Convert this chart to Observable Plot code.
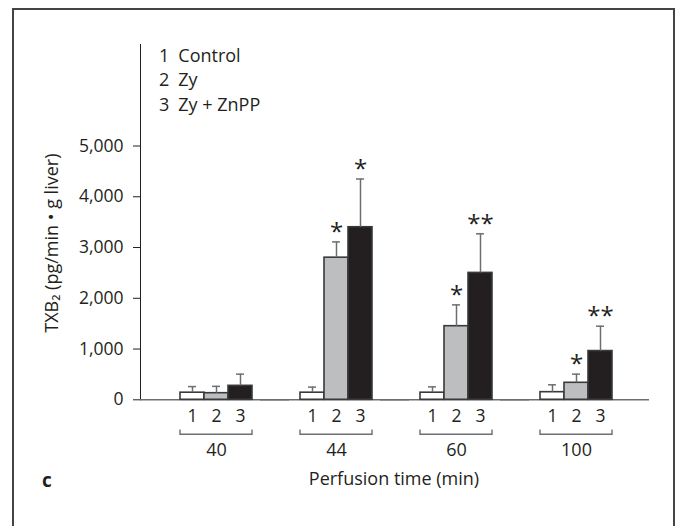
<!DOCTYPE html>
<html>
<head>
<meta charset="utf-8">
<script src="https://cdn.jsdelivr.net/npm/d3@7"></script>
<script src="https://cdn.jsdelivr.net/npm/@observablehq/plot@0.6"></script>
<style>
  html, body { margin: 0; padding: 0; background: #fff; }
  #wrap { position: relative; width: 678px; height: 526px; overflow: hidden; font-family: 'Open Sans', sans-serif; color: #231f20; }
  #border { position: absolute; left: 12px; top: 8px; width: 663px; height: 600px; border: 2px solid #444; box-sizing: border-box; }
  #chart { position: absolute; left: 0; top: 0; }
  #xtitle { position: absolute; left: 294px; width: 200px; top: 469px; text-align: center; font-size: 18px; line-height: 18px; white-space: nowrap; }
  #panel { position: absolute; left: 42px; top: 471px; font-size: 19px; font-weight: 700; line-height: 19px; }
</style>
</head>
<body>
<div id="wrap">
  <div id="border"></div>
  <div id="chart"></div>
  <div id="xtitle"></div>
  <div id="panel"></div>
</div>
<script>
// ---- data ----
const times = [40, 44, 60, 100];                 // perfusion time groups (min)
const seriesIds = ["1", "2", "3"];
const seriesNames = ["Control", "Zy", "Zy + ZnPP"];
const controlMean = [140, 140, 140, 150];
const controlErr  = [120, 110, 115, 145];
const zyMean      = [130, 2800, 1450, 335];
const zyErr       = [135, 310, 420, 170];
const znppMean    = [275, 3400, 2500, 960];
const znppErr     = [230, 950, 770, 490];
const controlSig  = ["", "", "", ""];
const zySig       = ["", "*", "*", "*"];
const znppSig     = ["", "*", "**", "**"];
const yTicks = [0, 1000, 2000, 3000, 4000, 5000];
const yLabel = "TXB\u2082 (pg/min \u2022 g liver)";
const xTitle = "Perfusion time (min)";
const panelLabel = "c";

// ---- table built from the arrays ----
const seriesData = [
  [controlMean, controlErr, controlSig],
  [zyMean, zyErr, zySig],
  [znppMean, znppErr, znppSig]
];
const rows = [];
times.forEach((t, i) => {
  seriesData.forEach(([m, e, s], j) => {
    rows.push({time: t, series: seriesIds[j], value: m[i], err: e[i], sig: s[i]});
  });
});
const legendText = seriesIds.map((id, j) => id + "\u2002" + seriesNames[j]).join("\n");

const ink = "#231f20";
const gray = "#6d6e71";

// bracket under each group, drawn from the inner band scale
function bracket(index, scales) {
  const x = scales.x, y = scales.y;
  const bw = typeof x.bandwidth === "function" ? x.bandwidth() : x.bandwidth;
  const x0 = x(seriesIds[0]);
  const x1 = x(seriesIds[seriesIds.length - 1]) + bw;
  const yb = y(0) + 35;
  const p = document.createElementNS("http://www.w3.org/2000/svg", "path");
  p.setAttribute("d", `M${x0},${yb - 4.7}V${yb}H${x1}V${yb - 4.7}`);
  p.setAttribute("fill", "none");
  p.setAttribute("stroke", gray);
  p.setAttribute("stroke-width", 1.4);
  return p;
}

const chart = Plot.plot({
  width: 678,
  height: 466,
  marginLeft: 140,
  marginRight: 58,
  marginTop: 44,
  marginBottom: 66.7,
  style: {fontFamily: "'Open Sans', sans-serif", fontSize: "17.5px", color: ink, background: "transparent", overflow: "visible"},
  fx: {domain: times, axis: null, paddingInner: 0, paddingOuter: 0},
  x: {domain: seriesIds, paddingInner: 0, paddingOuter: 0.952, align: 0.843, tickSize: 0, tickPadding: 10, label: null},
  y: {domain: [0, 7000], ticks: yTicks, tickFormat: d3.format(","), line: true, tickSize: 7, tickPadding: 10, label: null},
  color: {domain: seriesIds, range: ["#ffffff", "#bcbec0", ink]},
  marks: [
    Plot.ruleY([0], {stroke: gray, strokeWidth: 1.5, insetRight: -29}),
    Plot.barY(rows, {fx: "time", x: "series", y: "value", fill: "series", stroke: "#3a3a3a", strokeWidth: 1.6}),
    Plot.ruleX(rows, {fx: "time", x: "series", y1: "value", y2: d => d.value + d.err, stroke: gray, strokeWidth: 1.5}),
    Plot.tickY(rows, {fx: "time", x: "series", y: d => d.value + d.err, stroke: gray, strokeWidth: 1.5, insetLeft: 8, insetRight: 8}),
    Plot.text(rows.filter(d => d.sig), {fx: "time", x: "series", y: d => d.value + d.err, text: "sig", dy: -10, fontSize: 24, fill: ink}),
    Plot.text(times, {fx: d => d, x: () => seriesIds[1], text: d => String(d), frameAnchor: "bottom", dy: 56, fontSize: 18, fill: ink}),
    bracket,
    Plot.text([legendText], {fx: () => times[0], frameAnchor: "top-left", textAnchor: "start", lineAnchor: "top", dx: 18.5, dy: 0, lineHeight: 1.36, fontSize: 18, fill: ink}),
    Plot.text([yLabel], {fx: () => times[0], frameAnchor: "left", textAnchor: "middle", rotate: -90, dx: -88, dy: 21, fontSize: 18, fill: ink})
  ]
});
document.getElementById("chart").appendChild(chart);
document.getElementById("xtitle").textContent = xTitle;
document.getElementById("panel").textContent = panelLabel;
</script>
</body>
</html>
